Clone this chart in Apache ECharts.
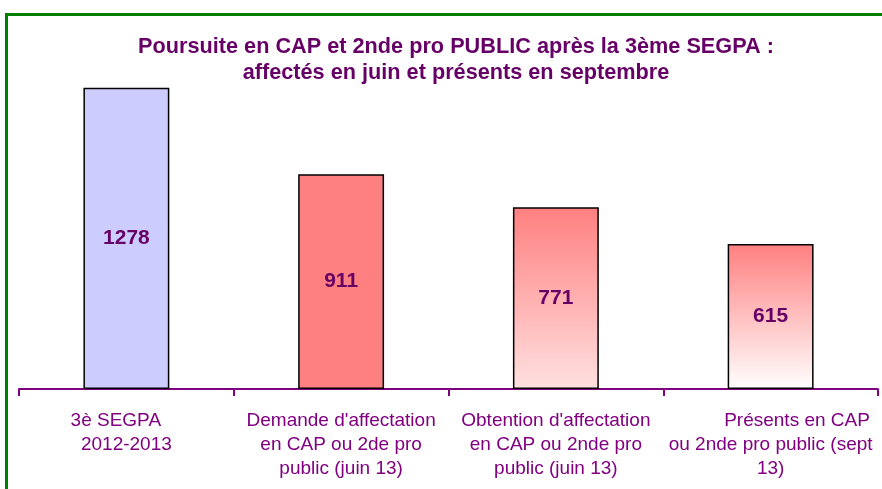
<!DOCTYPE html>
<html><head><meta charset="utf-8">
<script src="https://cdn.jsdelivr.net/npm/echarts@6/dist/echarts.min.js"></script>
<style>html,body{margin:0;padding:0;background:#fff}#c{width:882px;height:489px}</style>
</head><body><div id="c"></div>
<script>
const titleLines = ["Poursuite en CAP et 2nde pro PUBLIC après la 3ème SEGPA :", "affectés en juin et présents en septembre"];
const categories = [
  "3è SEGPA    \n2012-2013",
  "Demande d'affectation\nen CAP ou 2de pro\npublic (juin 13)",
  "Obtention d'affectation\nen CAP ou 2nde pro\npublic (juin 13)",
  "          Présents en CAP\nou 2nde pro public (sept\n13)"
];
const values = [1278, 911, 771, 615];

const grad = (c0, c1) => new echarts.graphic.LinearGradient(0, 0, 0, 1, [{offset: 0, color: c0}, {offset: 1, color: c1}]);
const fills = [
  '#ccccff',
  '#ff8080',
  grad('#ff8080', '#ffe0e0'),
  grad('#ff8080', '#ffffff')
];

const chart = echarts.init(document.getElementById('c'), null, {renderer: 'canvas'});
chart.setOption({
  animation: false,
  backgroundColor: '#ffffff',
  title: {
    text: titleLines.join('\n'),
    left: 456, top: 34, textAlign: 'center', padding: 0,
    textStyle: {fontFamily: 'Liberation Sans, Arial', fontSize: 21.7, fontWeight: 'bold', color: '#660066', lineHeight: 26}
  },
  graphic: [{
    type: 'rect', silent: true,
    shape: {x: 6.5, y: 14.5, width: 920, height: 500},
    style: {fill: null, stroke: '#008000', lineWidth: 3}
  }],
  grid: {left: 19, right: 4, top: 59, bottom: 100, containLabel: false},
  xAxis: {
    type: 'category', data: categories,
    axisLine: {lineStyle: {color: '#800080', width: 2}},
    axisTick: {show: true, length: 7, lineStyle: {color: '#800080', width: 2}},
    axisLabel: {interval: 0, margin: 20, fontFamily: 'Liberation Sans, Arial', fontSize: 19, color: '#800080', lineHeight: 24, align: 'center'}
  },
  yAxis: {type: 'value', min: 0, max: 1400, show: false, splitLine: {show: false}},
  series: [{
    type: 'bar', barWidth: '40%',
    data: values.map((v, i) => ({value: v, itemStyle: {color: fills[i]}})),
    itemStyle: {borderColor: '#000000', borderWidth: 1.5},
    label: {show: true, position: 'inside', fontFamily: 'Liberation Sans, Arial', fontSize: 21, fontWeight: 'bold', color: '#660066'}
  }]
});
</script></body></html>
